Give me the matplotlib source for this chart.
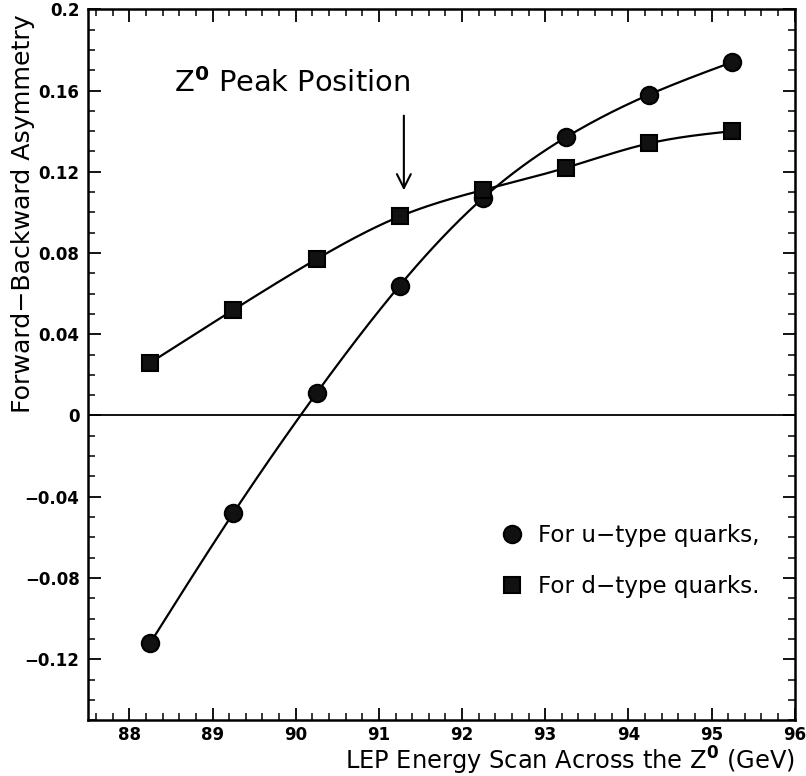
import numpy as np
import matplotlib
matplotlib.use('Agg')
import matplotlib.pyplot as plt
from matplotlib.ticker import MultipleLocator, FixedLocator, FixedFormatter

# LEP energy points (GeV)
energy = [88.25, 89.25, 90.25, 91.25, 92.25, 93.25, 94.25, 95.25]
afb_u = [-0.112, -0.048, 0.011, 0.064, 0.107, 0.137, 0.158, 0.174]
afb_d = [0.026, 0.052, 0.077, 0.098, 0.111, 0.122, 0.134, 0.140]

yticks = [-0.12, -0.08, -0.04, 0, 0.04, 0.08, 0.12, 0.16, 0.2]
ytick_labels = ['\u22120.12', '\u22120.08', '\u22120.04', '0', '0.04', '0.08', '0.12', '0.16', '0.2']
xticks = [88, 89, 90, 91, 92, 93, 94, 95, 96]
peak_energy = 91.3


def spline(x, y, n=200):
    # natural cubic spline, just for a smooth line through the points
    x = np.asarray(x, float)
    y = np.asarray(y, float)
    h = np.diff(x)
    k = len(x)
    A = np.zeros((k, k))
    b = np.zeros(k)
    A[0, 0] = A[-1, -1] = 1
    for i in range(1, k - 1):
        A[i, i - 1] = h[i - 1]
        A[i, i] = 2 * (h[i - 1] + h[i])
        A[i, i + 1] = h[i]
        b[i] = 6 * ((y[i + 1] - y[i]) / h[i] - (y[i] - y[i - 1]) / h[i - 1])
    M = np.linalg.solve(A, b)
    xs = np.linspace(x[0], x[-1], n)
    idx = np.clip(np.searchsorted(x, xs) - 1, 0, k - 2)
    x0, x1 = x[idx], x[idx + 1]
    hh = x1 - x0
    t0, t1 = x1 - xs, xs - x0
    ys = (M[idx] * t0 ** 3 + M[idx + 1] * t1 ** 3) / (6 * hh) \
        + (y[idx] / hh - M[idx] * hh / 6) * t0 + (y[idx + 1] / hh - M[idx + 1] * hh / 6) * t1
    return xs, ys


fig = plt.figure(figsize=(8.06, 7.76), dpi=100)
ax = fig.add_axes([0.109, 0.072, 0.877, 0.916])

xs, ys = spline(energy, afb_u)
ax.plot(xs, ys, color='black', lw=1.6)
xs, ys = spline(energy, afb_d)
ax.plot(xs, ys, color='black', lw=1.6)

ax.plot(energy, afb_u, 'o', ms=12.5, mfc='#111111', mec='black', mew=1.5, label='For u\u2212type quarks,')
ax.plot(energy, afb_d, 's', ms=11.5, mfc='#111111', mec='black', mew=1.5, label='For d\u2212type quarks.')

ax.axhline(0, color='black', lw=1.3)

ax.annotate('', xy=(peak_energy, 0.1095), xytext=(peak_energy, 0.149),
            arrowprops=dict(arrowstyle='->', color='black', lw=1.5, mutation_scale=25))
ax.text(89.96, 0.1635, 'Z$^{\\mathbf{0}}$ Peak Position', fontsize=20.8, ha='center', va='center')

ax.set_xlim(87.5, 96)
ax.set_ylim(-0.15, 0.2)
ax.xaxis.set_major_locator(FixedLocator(xticks))
ax.xaxis.set_minor_locator(MultipleLocator(0.2))
ax.yaxis.set_major_locator(FixedLocator(yticks))
ax.yaxis.set_major_formatter(FixedFormatter(ytick_labels))
ax.yaxis.set_minor_locator(MultipleLocator(0.01))
ax.tick_params(which='both', direction='in', top=True, right=True)
ax.tick_params(which='major', length=9, width=1.3, labelsize=12, pad=6)
ax.tick_params(axis='x', which='major', pad=4)
ax.tick_params(which='minor', length=5, width=1.1)
for lab in ax.get_xticklabels() + ax.get_yticklabels():
    lab.set_fontweight('bold')
for s in ax.spines.values():
    s.set_linewidth(1.8)

ax.set_xlabel('LEP Energy Scan Across the Z$^{\\mathbf{0}}$ (GeV)', fontsize=17.4, loc='right')
ax.xaxis.set_label_coords(1.0, -0.035)
ax.set_ylabel('Forward\u2212Backward Asymmetry', fontsize=18.2)
ax.yaxis.set_label_coords(-0.075, 0.712)

ax.legend(loc='upper left', bbox_to_anchor=(0.555, 0.305), frameon=False, fontsize=16.6,
          handletextpad=0.6, labelspacing=1.2, handlelength=1.0)

fig.savefig('out.png', dpi=100)
